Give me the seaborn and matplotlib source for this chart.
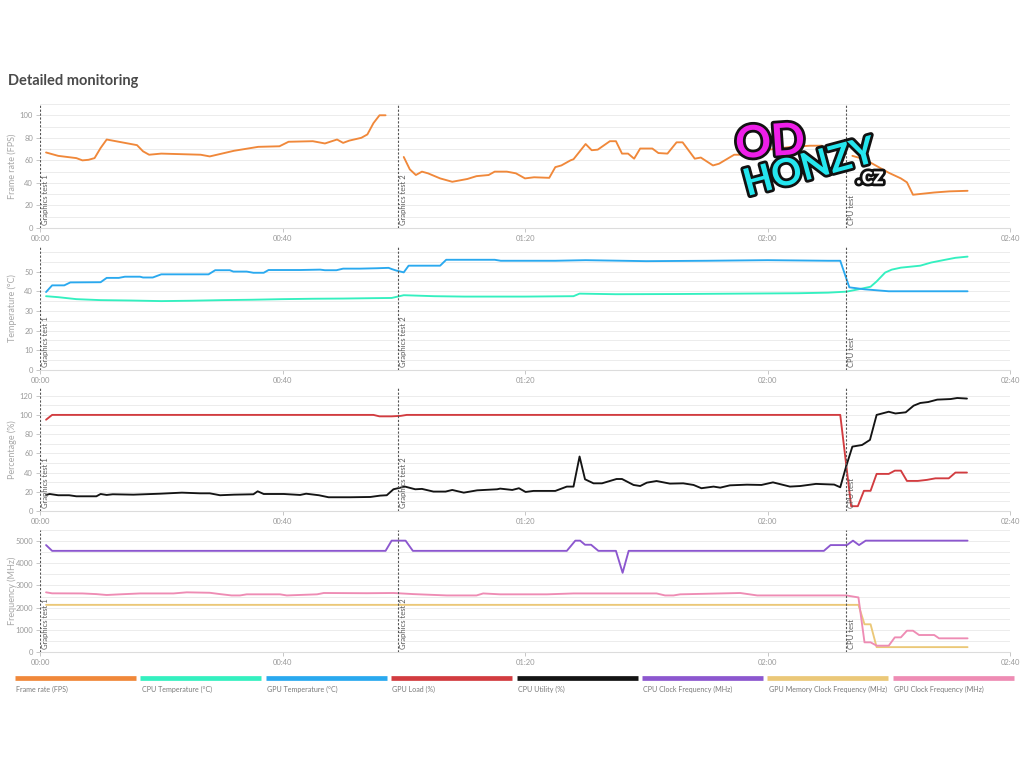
import matplotlib
matplotlib.use("Agg")
import matplotlib.pyplot as plt
from matplotlib import patheffects as pe
from matplotlib.transforms import blended_transform_factory
import pandas as pd
import seaborn as sns

sns.set_theme(style="white")
plt.rcParams["font.family"] = ["Lato", "DejaVu Sans"]

# ---- time axis (seconds) and test markers ----
x_ticks = [0, 40, 80, 120, 160]
x_tick_labels = ["00:00", "00:40", "01:20", "02:00", "02:40"]
event_times = [0, 59, 133]
event_names = ["Graphics test 1", "Graphics test 2", "CPU test"]

# ---- Frame rate (FPS), one run per test ----
fps_t1 = [1, 3, 6, 7, 8, 9, 10, 11, 12.5, 16, 17, 18, 20, 26.5, 28, 32, 36, 39.5, 41,
          45, 47, 49, 50, 51, 53, 54, 55, 56, 57]
fps_v1 = [67, 64, 62, 60, 60.5, 62, 71, 78.5, 77, 73.5, 68, 65, 66, 65, 63.5, 68.5, 72, 72.5, 76.5,
          77, 75, 78.5, 75.5, 77.5, 80, 83, 93, 100, 100]
fps_t2 = [60, 61, 62, 63, 64, 66, 68, 70.5, 72, 74, 75, 77, 78.5, 80, 81.5, 84, 85, 86, 87.5, 88,
          90, 91, 92, 94, 95, 96, 97, 98, 99, 101, 102, 103.5, 105, 106, 108, 109, 111, 112,
          114.5, 115.5, 118, 121, 124, 127, 129]
fps_v2 = [63, 52, 47, 50, 48.5, 44, 41, 43.5, 46, 47, 50, 50, 48.5, 44, 45, 44.5, 54, 55.5, 60, 61,
          74.5, 69, 69.5, 77, 77, 66, 66, 61.5, 70.5, 70.5, 66.5, 66, 76, 76, 61.5, 62.5, 55.5, 57,
          65, 65, 68, 70, 72, 73, 73]
fps_t3 = [134, 136, 138, 140, 142, 143, 144, 147.5, 150, 153]
fps_v3 = [64, 61, 55, 49, 44, 40.5, 29.5, 31.5, 32.5, 33]

# ---- Temperatures (°C) ----
cpu_temp_t = [1, 3, 6, 10, 15, 20, 25, 30, 35, 40, 45, 50, 55, 58, 59, 60, 62, 65, 70, 80, 88,
              89, 95, 105, 115, 125, 130, 133, 135, 137, 138, 139.4, 140.5, 142, 145.2, 147,
              149.3, 151, 153]
cpu_temp_v = [37.5, 37, 36, 35.5, 35.3, 35, 35.2, 35.5, 35.7, 36, 36.2, 36.3, 36.5, 36.6, 37.3,
              38, 37.8, 37.5, 37.3, 37.3, 37.5, 38.8, 38.5, 38.6, 38.8, 39, 39.3, 39.8, 41, 42.3,
              45, 49.5, 51, 52, 53, 54.6, 56, 57, 57.6]
gpu_temp_t = [1, 2, 4, 5, 10, 11, 13, 14, 16.5, 17, 18.6, 20, 27.8, 28.9, 31.3, 31.9, 34.1,
              35.2, 36.9, 37.7, 42.9, 46.2, 47, 48.9, 50, 52.8, 55.6, 57.5, 58, 58.8, 60, 60.8,
              66, 67, 75, 76, 85, 90, 100, 110, 120, 130, 132, 133.5, 136, 140, 153]
gpu_temp_v = [39.6, 43, 43, 44.5, 44.6, 46.8, 46.8, 47.4, 47.4, 47, 47, 48.6, 48.6, 50.7, 50.7,
              50, 50, 49.4, 49.4, 50.8, 50.8, 51, 50.7, 50.7, 51.5, 51.5, 51.7, 51.9, 51.3, 50.5,
              49.6, 53, 53, 56, 56, 55.5, 55.5, 55.8, 55.3, 55.5, 55.8, 55.5, 55.5, 42, 41, 40, 40]

# ---- Load (%) ----
gpu_load_t = [1, 2, 55, 56, 58, 59.5, 60.5, 132, 133.8, 134.9, 135.9, 137, 138, 140, 141, 142,
              143, 144.8, 146.3, 147.7, 149.9, 151, 152.9]
gpu_load_v = [95, 100, 100, 98.5, 98.5, 99, 100, 100, 5, 5, 21, 21, 38.6, 38.6, 42, 42, 31.3,
              31.3, 32.4, 34, 34, 40, 40]
cpu_util_t = [1, 1.6, 3, 4.8, 6, 9.3, 10, 11, 12, 15.4, 19.8, 23.4, 26.4, 28, 29.7, 32, 35.2,
              35.9, 36.9, 40.2, 42.9, 43.9, 46, 47.6, 51.2, 54.5, 56.1, 57.2, 58.3, 60.2, 61.9,
              63, 64.9, 66.9, 68, 69.9, 72.1, 75.4, 75.9, 77.9, 79, 80.1, 81.4, 85, 86.9, 88, 89,
              89.9, 91.3, 92.7, 95.1, 96, 97.9, 99, 100.1, 101.7, 103.9, 106.1, 107.8, 109.1,
              111.1, 112.2, 113.8, 116.6, 119, 120.9, 123.7, 125.4, 128, 131, 132, 133, 134,
              135.6, 136.9, 138, 140, 141.1, 142.8, 144.1, 145.2, 146.5, 148, 150.2, 151.3, 152.9]
cpu_util_v = [16.7, 17.7, 16.4, 16.4, 15.3, 15.3, 17.7, 16.7, 17.4, 17, 18, 19.1, 18.4, 18.4,
              16.4, 17, 17.4, 20.5, 17.7, 17.7, 16.7, 18, 16.4, 14.3, 14.3, 14.6, 16, 16.4, 22.6,
              25.4, 22.6, 23, 20.2, 20.2, 21.9, 19.1, 21.5, 22.6, 23.3, 21.9, 23.7, 19.8, 20.9,
              20.9, 25.4, 25.4, 56.7, 33, 28.8, 28.8, 33.3, 33.3, 27.1, 26, 29.5, 31.2, 28.5,
              28.8, 27.1, 23.7, 25.4, 24.3, 26.7, 27.4, 27.1, 29.8, 25.4, 26, 28.2, 27.5, 24.7,
              47, 67, 68.7, 74, 100, 103.3, 101.5, 102.7, 109.6, 112.4, 113.4, 115.9, 116.5,
              117.6, 117]

# ---- Clocks (MHz) ----
cpu_clk_t = [1, 2, 57, 58, 60.3, 61.5, 86.9, 88.3, 89.1, 89.9, 90.9, 92.1, 95, 96.1, 97.1,
             129.3, 130.4, 133.1, 134.1, 135.1, 136.2, 153]
cpu_clk_v = [4820, 4560, 4560, 5020, 5020, 4560, 4560, 5020, 5020, 4835, 4835, 4560, 4560, 3570,
             4560, 4560, 4820, 4820, 5020, 4820, 5020, 5020]
gpu_mem_t = [1, 135, 136, 137, 138, 153]
gpu_mem_v = [2125, 2125, 1250, 1250, 220, 220]
gpu_clk_t = [1, 2, 7, 9.3, 11, 13.2, 16.5, 22, 24.2, 28, 29.7, 31.6, 33, 34.1, 39.6, 40.7, 45.7,
             46.8, 53.9, 58.3, 61.6, 67.1, 72, 73.1, 75.9, 83.6, 88, 101.7, 103.1, 104.5, 105.6,
             115.5, 118.3, 133, 135, 136, 137, 138, 140, 141, 142, 143, 144, 145, 147.5, 148.3,
             153]
gpu_clk_v = [2690, 2645, 2640, 2610, 2570, 2600, 2640, 2640, 2690, 2670, 2610, 2550, 2550, 2600,
             2600, 2550, 2600, 2660, 2650, 2660, 2610, 2550, 2550, 2640, 2600, 2600, 2640, 2640,
             2550, 2550, 2600, 2660, 2550, 2550, 2460, 436, 436, 285, 285, 660, 660, 960, 960,
             766, 766, 616, 616]

legend_names = ["Frame rate (FPS)", "CPU Temperature (°C)", "GPU Temperature (°C)",
                "GPU Load (%)", "CPU Utility (%)", "CPU Clock Frequency (MHz)",
                "GPU Memory Clock Frequency (MHz)", "GPU Clock Frequency (MHz)"]
colors = ["#f0883a", "#34f0c0", "#2aa9ef", "#d23c40", "#141414", "#8c57cf", "#ebc878", "#ee8cb4"]

fig = plt.figure(figsize=(10.24, 7.68), dpi=100)
fig.patch.set_facecolor("white")

W, H = 1024.0, 768.0
left, right = 40, 1010
panels = [(104, 228), (246, 370), (388, 511), (530, 652)]
axes = []
for top, bot in panels:
    ax = fig.add_axes([left / W, 1 - bot / H, (right - left) / W, (bot - top) / H])
    axes.append(ax)

LW = 1.35


def draw(ax, t, v, color, units=None):
    df = pd.DataFrame({"t": t, "v": v})
    if units is not None:
        df["run"] = units
        sns.lineplot(data=df, x="t", y="v", units="run", estimator=None, sort=False,
                     color=color, lw=LW, ax=ax, legend=False)
    else:
        sns.lineplot(data=df, x="t", y="v", estimator=None, sort=False,
                     color=color, lw=LW, ax=ax, legend=False)


# FPS
fps_t = fps_t1 + fps_t2 + fps_t3
fps_v = fps_v1 + fps_v2 + fps_v3
fps_run = [1] * len(fps_t1) + [2] * len(fps_t2) + [3] * len(fps_t3)
draw(axes[0], fps_t, fps_v, colors[0], units=fps_run)
# temperatures
draw(axes[1], cpu_temp_t, cpu_temp_v, colors[1])
draw(axes[1], gpu_temp_t, gpu_temp_v, colors[2])
# load
draw(axes[2], gpu_load_t, gpu_load_v, colors[3])
draw(axes[2], cpu_util_t, cpu_util_v, colors[4])
# clocks
draw(axes[3], gpu_mem_t, gpu_mem_v, colors[6])
draw(axes[3], gpu_clk_t, gpu_clk_v, colors[7])
draw(axes[3], cpu_clk_t, cpu_clk_v, colors[5])

y_setup = [
    ("Frame rate (FPS)", (0, 110), range(0, 101, 20), range(0, 111, 10)),
    ("Temperature (°C)", (0, 63), range(0, 51, 10), range(0, 61, 5)),
    ("Percentage (%)", (0, 128), range(0, 121, 20), range(0, 121, 10)),
    ("Frequency (MHz)", (0, 5500), range(0, 5001, 1000), range(0, 5501, 500)),
]

for ax, (label, ylim, majors, minors) in zip(axes, y_setup):
    ax.set_xlim(0, 160)
    ax.set_ylim(*ylim)
    ax.set_yticks(list(majors))
    ax.set_yticks(list(minors), minor=True)
    ax.set_xticks(x_ticks)
    ax.set_xticklabels(x_tick_labels)
    ax.grid(True, axis="y", which="both", color="#ececec", lw=0.7, zorder=0)
    ax.grid(False, axis="x")
    ax.set_axisbelow(True)
    for s in ("top", "right", "left"):
        ax.spines[s].set_visible(False)
    ax.spines["bottom"].set_color("#dcdcdc")
    ax.spines["bottom"].set_linewidth(0.8)
    ax.tick_params(axis="both", which="major", labelsize=5.5, colors="#bdbdbd",
                   length=3, width=0.6, pad=2, direction="out")
    ax.tick_params(axis="y", which="minor", length=0)
    ax.tick_params(axis="y", which="major", left=True)
    ax.tick_params(axis="x", which="major", bottom=True)
    for lab in ax.get_xticklabels() + ax.get_yticklabels():
        lab.set_color("#9a9a9a")
    ax.set_xlabel("")
    ax.set_ylabel(label, fontsize=6.5, color="#a8a8a8")
    ax.yaxis.set_label_coords(-0.024, 0.5)
    ax.set_facecolor("white")

    trans = blended_transform_factory(ax.transData, ax.transAxes)
    for et, name in zip(event_times, event_names):
        ax.axvline(et, color="#555555", lw=0.8, ls=(0, (2, 1.5)), zorder=3)
        ax.text(et + 0.35, 0.025, name, transform=trans, rotation=90, ha="left",
                va="bottom", fontsize=5.5, color="#5a5a5a", zorder=4)

# title
fig.text(8 / W, 1 - 81 / H, "Detailed monitoring", fontsize=10.5, fontweight="bold",
         color="#4a4a4a", ha="left", va="center")

# legend strip
lax = fig.add_axes([15 / W, 1 - 700 / H, 1003 / W, 28 / H])
lax.set_xlim(0, len(legend_names))
lax.set_ylim(0, 1)
lax.axis("off")
for i, (name, c) in enumerate(zip(legend_names, colors)):
    lax.plot([i, i + 0.966], [0.78, 0.78], color=c, lw=3.4, solid_capstyle="butt")
    lax.text(i + 0.01, 0.38, name, fontsize=5.1, color="#7a7a7a", ha="left", va="center")

# watermark
stroke = [pe.withStroke(linewidth=4, foreground="#111111")]
fig.text(734 / W, 1 - 143 / H, "OD", fontsize=32, fontweight="bold", color="#ee1fe8",
         ha="left", va="center", rotation=4, path_effects=stroke, zorder=20)
fig.text(740 / W, 1 - 168 / H, "HONZY", fontsize=27, fontweight="bold", color="#25e6ee",
         ha="left", va="center", rotation=15, path_effects=stroke, zorder=20)
fig.text(856 / W, 1 - 176 / H, ".cz", fontsize=17, fontweight="bold", color="white",
         ha="left", va="center", rotation=0, path_effects=stroke, zorder=20)

fig.savefig("out.png", dpi=100, facecolor="white")
